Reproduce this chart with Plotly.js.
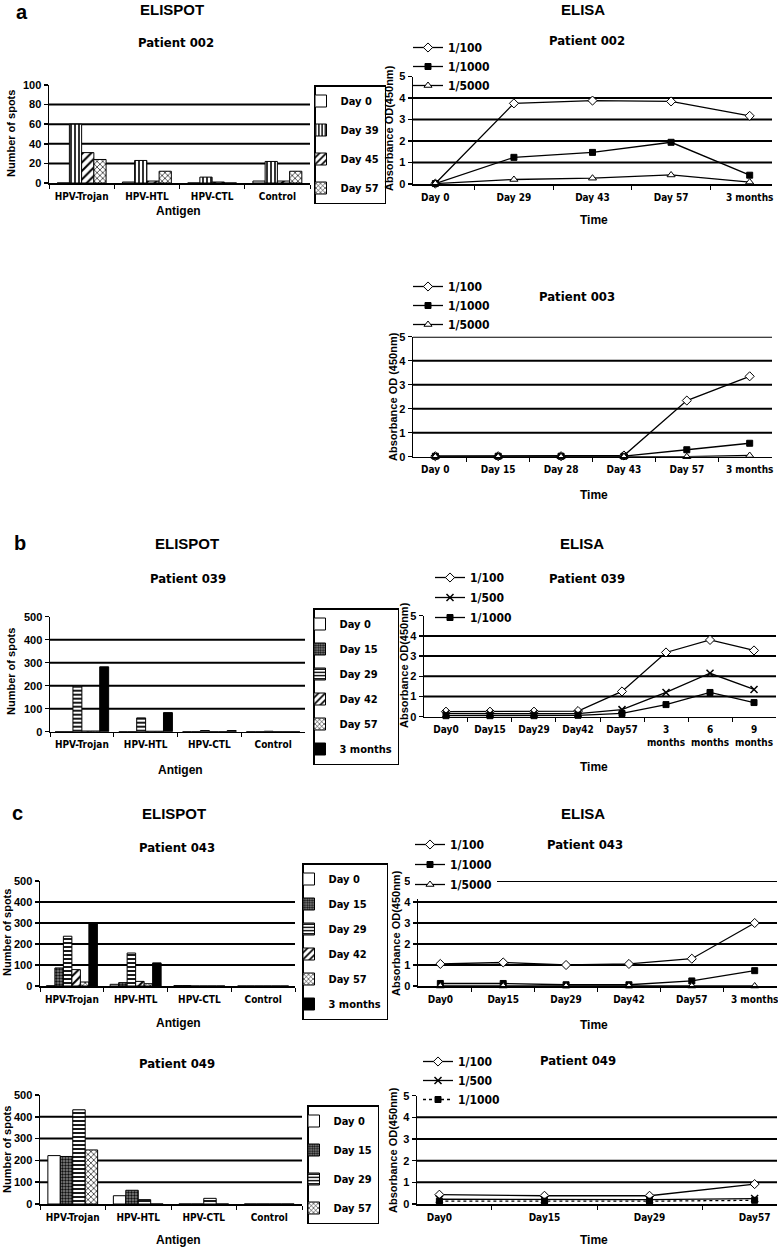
<!DOCTYPE html>
<html>
<head>
<meta charset="utf-8">
<script src="https://cdn.plot.ly/plotly-3.0.1.min.js"></script>
<style>
html,body{margin:0;padding:0;background:#fff;}
#chart{width:778px;height:1248px;}
.legendtext{letter-spacing:-0.4px;}
</style>
</head>
<body>
<div id="chart"></div>
<script>
// ---------------- DATA ----------------
const antigens = ['HPV-Trojan', 'HPV-HTL', 'HPV-CTL', 'Control'];

// Panel a — ELISPOT patient 002
const days002 = ['Day 0', 'Day 39', 'Day 45', 'Day 57'];
const spots002_day0 = [0, 1, 0, 2];
const spots002_day39 = [60, 23, 6, 22];
const spots002_day45 = [31, 2, 1, 2];
const spots002_day57 = [24, 12, 0, 12];

// Panel a — ELISA patient 002
const time002 = ['Day 0', 'Day 29', 'Day 43', 'Day 57', '3 months'];
const od002_100 = [0.02, 3.75, 3.88, 3.84, 3.17];
const od002_1000 = [0.02, 1.24, 1.47, 1.94, 0.41];
const od002_5000 = [0.02, 0.21, 0.27, 0.42, 0.09];

// Panel a — ELISA patient 003
const time003 = ['Day 0', 'Day 15', 'Day 28', 'Day 43', 'Day 57', '3 months'];
const od003_100 = [0.02, 0.02, 0.02, 0.05, 2.34, 3.35];
const od003_1000 = [0.02, 0.02, 0.02, 0.02, 0.29, 0.56];
const od003_5000 = [0.0, 0.0, 0.0, 0.0, 0.0, 0.05];

// Panel b — ELISPOT patient 039
const days039 = ['Day 0', 'Day 15', 'Day 29', 'Day 42', 'Day 57', '3 months'];
const spots039_day0 = [0, 0, 0, 0];
const spots039_day15 = [0, 0, 0, 0];
const spots039_day29 = [200, 60, 5, 2];
const spots039_day42 = [3, 2, 0, 0];
const spots039_day57 = [3, 2, 0, 0];
const spots039_3m = [282, 83, 5, 0];

// Panel b — ELISA patient 039
const time039 = ['Day0', 'Day15', 'Day29', 'Day42', 'Day57', '3<br>months', '6<br>months', '9<br>months'];
const od039_100 = [0.25, 0.25, 0.25, 0.28, 1.25, 3.18, 3.8, 3.28];
const od039_500 = [0.15, 0.15, 0.15, 0.15, 0.35, 1.2, 2.15, 1.35];
const od039_1000 = [0.05, 0.05, 0.05, 0.07, 0.16, 0.6, 1.2, 0.7];

// Panel c — ELISPOT patient 043
const days043 = ['Day 0', 'Day 15', 'Day 29', 'Day 42', 'Day 57', '3 months'];
const spots043_day0 = [1, 8, 2, 0];
const spots043_day15 = [86, 16, 2, 0];
const spots043_day29 = [237, 157, 0, 0];
const spots043_day42 = [78, 22, 0, 0];
const spots043_day57 = [19, 11, 0, 0];
const spots043_3m = [301, 110, 0, 0];

// Panel c — ELISA patient 043
const time043 = ['Day0', 'Day15', 'Day29', 'Day42', 'Day57', '3 months'];
const od043_100 = [1.05, 1.12, 1.0, 1.05, 1.3, 3.0];
const od043_1000 = [0.12, 0.12, 0.06, 0.06, 0.24, 0.73];
const od043_5000 = [0, 0, 0, 0, 0, 0];

// Panel c — ELISPOT patient 049
const days049 = ['Day 0', 'Day 15', 'Day 29', 'Day 57'];
const spots049_day0 = [222, 38, 0, 0];
const spots049_day15 = [218, 63, 0, 0];
const spots049_day29 = [432, 20, 26, 0];
const spots049_day57 = [248, 0, 0, 0];

// Panel c — ELISA patient 049
const time049 = ['Day0', 'Day15', 'Day29', 'Day57'];
const od049_100 = [0.43, 0.38, 0.38, 0.92];
const od049_500 = [0.22, 0.2, 0.2, 0.25];
const od049_1000 = [0.13, 0.13, 0.13, 0.17];

// ---------------- LAYOUT HELPERS ----------------
const W = 778, H = 1248;
const NARROW = '"Liberation Sans Narrow", "DejaVu Sans Condensed", "Arial Narrow", "Liberation Sans", Arial, sans-serif';
const WIDE = '"Liberation Sans", Arial, sans-serif';
const xd = (a, b) => [a / W, b / W];
const yd = (top, bot) => [1 - bot / H, 1 - top / H];
const px = v => v / W;
const py = v => 1 - v / H;

// fills
const FILL = {
  white: {color: 'white', pattern: {shape: ''}},
  vert: {color: 'white', pattern: {shape: '|', fgcolor: 'black', bgcolor: 'white', size: 4, solidity: 0.4}},
  diag: {color: 'white', pattern: {shape: '/', fgcolor: 'black', bgcolor: 'white', size: 6, solidity: 0.35}},
  zig: {color: 'white', pattern: {shape: 'x', fgcolor: 'black', bgcolor: 'white', size: 4, solidity: 0.3}},
  dark: {color: '#555', pattern: {shape: '.', fgcolor: '#111', bgcolor: '#888', size: 3, solidity: 0.5}},
  horiz: {color: 'white', pattern: {shape: '-', fgcolor: 'black', bgcolor: 'white', size: 4, solidity: 0.45}},
  black: {color: 'black', pattern: {shape: ''}}
};

const traces = [];
let gid = 0;

function barSet(names, series, fills, xa, ya, legendId, groupFrac) {
  const n = series.length;
  const w = groupFrac / n;
  series.forEach((vals, i) => {
    const f = FILL[fills[i]];
    traces.push({
      type: 'bar', x: antigens, y: vals, name: names[i],
      xaxis: xa, yaxis: ya, legend: legendId, legendgroup: 'g' + (gid++),
      width: w, offset: -groupFrac / 2 + i * w,
      marker: {color: f.color, pattern: f.pattern, line: {color: 'black', width: 1}},
      hoverinfo: 'skip'
    });
  });
}

const MK = {
  '1/100': {symbol: 'diamond', size: 7, color: 'white', line: {color: 'black', width: 1}},
  '1/500': {symbol: 'x-thin-open', size: 7, color: 'black', line: {color: 'black', width: 1.5}},
  '1/1000': {symbol: 'square', size: 6, color: 'black', line: {color: 'black', width: 1}},
  '1/5000': {symbol: 'triangle-up', size: 7, color: 'white', line: {color: 'black', width: 1}}
};

function lineSet(names, series, xs, xa, ya, legendId, dashes) {
  series.forEach((vals, i) => {
    traces.push({
      type: 'scatter', mode: 'lines+markers', x: xs, y: vals, name: names[i],
      xaxis: xa, yaxis: ya, legend: legendId, legendgroup: 'g' + (gid++),
      line: {color: 'black', width: 1.3, dash: dashes ? dashes[i] : 'solid'},
      marker: MK[names[i]], cliponaxis: false, hoverinfo: 'skip'
    });
  });
}

// ---------------- TRACES ----------------
barSet(days002, [spots002_day0, spots002_day39, spots002_day45, spots002_day57],
  ['white', 'vert', 'diag', 'zig'], 'x', 'y', 'legend10', 0.75);
lineSet(['1/100', '1/1000', '1/5000'], [od002_100, od002_1000, od002_5000], time002, 'x2', 'y2', 'legend2');
lineSet(['1/100', '1/1000', '1/5000'], [od003_100, od003_1000, od003_5000], time003, 'x3', 'y3', 'legend3');
barSet(days039, [spots039_day0, spots039_day15, spots039_day29, spots039_day42, spots039_day57, spots039_3m],
  ['white', 'dark', 'horiz', 'diag', 'zig', 'black'], 'x4', 'y4', 'legend4', 0.84);
lineSet(['1/100', '1/500', '1/1000'], [od039_100, od039_500, od039_1000], time039, 'x5', 'y5', 'legend5');
barSet(days043, [spots043_day0, spots043_day15, spots043_day29, spots043_day42, spots043_day57, spots043_3m],
  ['white', 'dark', 'horiz', 'diag', 'zig', 'black'], 'x6', 'y6', 'legend6', 0.8);
lineSet(['1/100', '1/1000', '1/5000'], [od043_100, od043_1000, od043_5000], time043, 'x7', 'y7', 'legend7');
barSet(days049, [spots049_day0, spots049_day15, spots049_day29, spots049_day57],
  ['white', 'dark', 'horiz', 'zig'], 'x8', 'y8', 'legend8', 0.76);
lineSet(['1/100', '1/500', '1/1000'], [od049_100, od049_500, od049_1000], time049, 'x9', 'y9', 'legend9', ['solid', 'solid', 'dot']);

// ---------------- AXES ----------------
const layout = {
  width: W, height: H,
  margin: {l: 0, r: 0, t: 0, b: 0},
  paper_bgcolor: 'white', plot_bgcolor: 'rgba(0,0,0,0)',
  font: {family: NARROW, color: 'black', size: 12, weight: 700},
  showlegend: true,
  annotations: [], shapes: []
};

// panel boxes in px; axis-title positions in px
const panels = [
  {id: '', x: [49, 310], y: [85, 183], max: 100, dt: 20, grid: [20, 40, 60, 80], xt: 'Antigen', xtp: [178, 211], yt: 'Number of spots', ytp: [11, 134]},
  {id: '2', x: [413, 772], y: [76.5, 184], max: 5, dt: 1, grid: [1, 2, 3, 4], xt: 'Time', xtp: [594, 220], yt: 'Absorbance OD(450nm)', ytp: [389, 128]},
  {id: '3', x: [413, 772], y: [336.7, 456.7], max: 5, dt: 1, grid: [1, 2, 3, 4, 5], xt: 'Time', xtp: [594, 495], yt: 'Absorbance OD (450nm)', ytp: [393, 397]},
  {id: '4', x: [50, 305], y: [616.7, 731.7], max: 500, dt: 100, grid: [100, 200, 300, 400], xt: 'Antigen', xtp: [180, 770], yt: 'Number of spots', ytp: [11, 672]},
  {id: '5', x: [424, 776], y: [615.7, 716.7], max: 5, dt: 1, grid: [1, 2, 3, 4], xt: 'Time', xtp: [594, 767], yt: 'Absorbance OD(450nm)', ytp: [404, 665]},
  {id: '6', x: [40, 295], y: [881, 986], max: 500, dt: 100, grid: [100, 200, 300, 400], xt: 'Antigen', xtp: [178, 1023], yt: 'Number of spots', ytp: [7, 933]},
  {id: '7', x: [418, 777], y: [881, 986], max: 5, dt: 1, grid: [1, 2, 3, 4, 5], xt: 'Time', xtp: [594, 1025], yt: 'Absorbance OD(450nm)', ytp: [396, 933]},
  {id: '8', x: [40, 302], y: [1095, 1204], max: 500, dt: 100, grid: [100, 200, 300, 400], xt: 'Antigen', xtp: [178, 1240], yt: 'Number of spots', ytp: [7, 1150]},
  {id: '9', x: [417, 777], y: [1095.7, 1204], max: 5, dt: 1, grid: [1, 2, 3, 4], xt: 'Time', xtp: [594, 1240], yt: 'Absorbance OD(450nm)', ytp: [393, 1150]}
];

function ann(text, x, y, size, family, angle) {
  layout.annotations.push({text: text, x: px(x), y: py(y), xref: 'paper', yref: 'paper',
    xanchor: 'center', yanchor: 'middle', showarrow: false, textangle: angle || 0,
    font: {family: family, size: size, weight: 700, color: 'black'}});
}

panels.forEach(p => {
  const xk = 'xaxis' + p.id, yk = 'yaxis' + p.id;
  const xr = 'x' + p.id, yr = 'y' + p.id;
  layout[xk] = {
    domain: xd(p.x[0], p.x[1]), anchor: yr, type: 'category',
    showline: true, linecolor: 'black', linewidth: 1.5,
    ticks: 'outside', tickson: 'boundaries', ticklen: 4, tickcolor: 'black', tickwidth: 1,
    showgrid: false, zeroline: false, fixedrange: true, tickangle: 0, ticklabelstandoff: 3,
    tickfont: {family: NARROW, size: 10, weight: 700}
  };
  layout[yk] = {
    domain: yd(p.y[0], p.y[1]), anchor: xr, range: [0, p.max], dtick: p.dt,
    showline: true, linecolor: 'black', linewidth: 1.5,
    ticks: 'outside', ticklen: 4, tickcolor: 'black', tickwidth: 1.5,
    showgrid: false, zeroline: false, fixedrange: true,
    tickfont: {family: WIDE, size: 11, weight: 700}
  };
  p.grid.forEach(g => {
    layout.shapes.push({type: 'line', xref: xr + ' domain', yref: yr, x0: 0, x1: 1, y0: g, y1: g,
      line: {color: 'black', width: 2}, layer: 'below'});
  });
  ann(p.xt, p.xtp[0], p.xtp[1], 12, WIDE, 0);
  ann(p.yt, p.ytp[0], p.ytp[1], 11, WIDE, -90);
});

// ---------------- LEGENDS ----------------
function boxLegend(x, ytop, gap) {
  return {x: px(x), y: py(ytop), xanchor: 'left', yanchor: 'top', bgcolor: 'white',
    bordercolor: 'black', borderwidth: 1.5, traceorder: 'grouped', tracegroupgap: gap,
    indentation: -15, itemwidth: 30, font: {family: NARROW, size: 11, weight: 700}};
}
function lineLegend(x, ytop, gap, bg) {
  return {x: px(x), y: py(ytop), xanchor: 'left', yanchor: 'top', bgcolor: bg || 'rgba(0,0,0,0)',
    borderwidth: 0, traceorder: 'grouped', tracegroupgap: gap,
    itemwidth: 30, font: {family: NARROW, size: 12, weight: 700}};
}
layout.legend10 = boxLegend(314, 85, 10);
layout.legend2 = lineLegend(408, 33, 0);
layout.legend3 = lineLegend(408, 272, 0);
layout.legend4 = boxLegend(313, 608, 6);
layout.legend5 = lineLegend(430, 563, 1);
layout.legend6 = boxLegend(302, 863, 6);
layout.legend7 = lineLegend(410, 830, 1, 'white');
layout.legend8 = boxLegend(307, 1105, 10);
layout.legend9 = lineLegend(418, 1047, 0);

// ---------------- TEXT ----------------
ann('a', 22, 12, 20, WIDE);
ann('ELISPOT', 172, 10, 15, WIDE);
ann('ELISA', 583, 10, 15, WIDE);
ann('Patient 002', 176, 43, 13, NARROW);
ann('Patient 002', 587, 40, 13, NARROW);
ann('Patient 003', 577, 297, 13, NARROW);
ann('b', 20, 543, 20, WIDE);
ann('ELISPOT', 187, 543, 15, WIDE);
ann('ELISA', 582, 543, 15, WIDE);
ann('Patient 039', 188, 578, 13, NARROW);
ann('Patient 039', 587, 578, 13, NARROW);
ann('c', 17, 813, 20, WIDE);
ann('ELISPOT', 174, 813, 15, WIDE);
ann('ELISA', 583, 813, 15, WIDE);
ann('Patient 043', 177, 847, 13, NARROW);
ann('Patient 043', 585, 844, 13, NARROW);
ann('Patient 049', 177, 1063, 13, NARROW);
ann('Patient 049', 578, 1060, 13, NARROW);

Plotly.newPlot('chart', traces, layout, {staticPlot: true, displayModeBar: false});
</script>
</body>
</html>
